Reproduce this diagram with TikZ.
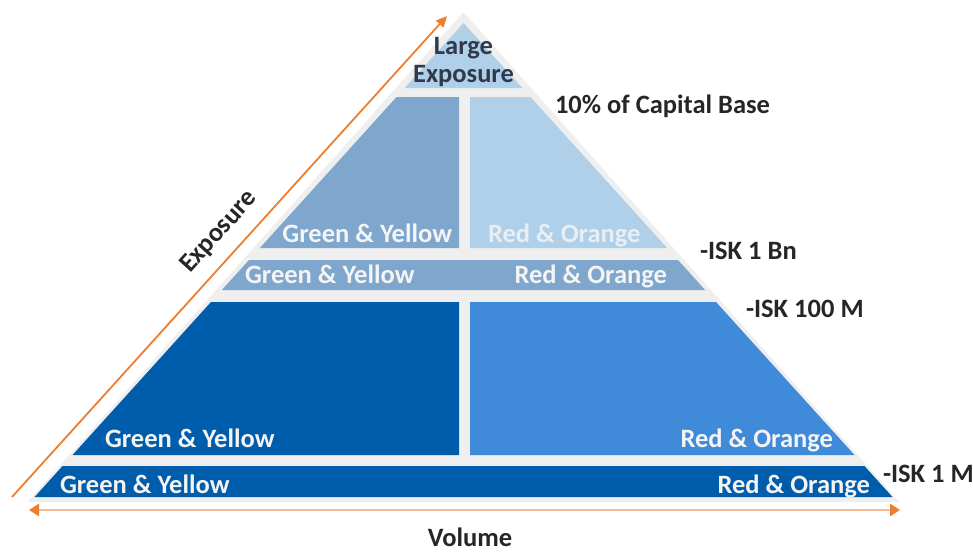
\documentclass[tikz,border=0pt]{standalone}
\usepackage{fontspec}
\setmainfont{Carlito}
\usetikzlibrary{arrows.meta}
\definecolor{bggray}{HTML}{EFEFEF}
\definecolor{lightblue}{HTML}{AFD0E8}
\definecolor{midblue}{HTML}{7FA7CE}
\definecolor{darkblue}{HTML}{005DAB}
\definecolor{brightblue}{HTML}{3F8BDA}
\definecolor{arrorange}{HTML}{ED7D31}
\definecolor{lineorange}{HTML}{F6B995}
\definecolor{labelgray}{HTML}{262626}
\definecolor{topgray}{HTML}{2F3A4C}
\definecolor{intext}{HTML}{F4F4F4}
\begin{document}
\begin{tikzpicture}[x=1pt,y=-1pt,
  txt/.style={font=\bfseries\fontsize{26.5}{28}\selectfont, inner sep=0pt, outer sep=0pt},
  intxt/.style={txt, text=intext},
  outtxt/.style={txt, text=labelgray}]
\useasboundingbox (0,0) rectangle (973,551);
% background gray triangle
\fill[bggray] (463.5,12) -- (899.5,502) -- (27.5,502) -- cycle;
% row 1
\fill[lightblue] (463.5,23) -- ({463.5+0.905*(88-23)},88) -- ({463.5-0.905*(88-23)},88) -- cycle;
% row 2
\fill[midblue] ({463.5-0.905*(97-23)},97) -- (459,97) -- (459,248) -- ({463.5-0.905*(248-23)},248) -- cycle;
\fill[lightblue] (470,97) -- ({463.5+0.905*(97-23)},97) -- ({463.5+0.905*(248-23)},248) -- (470,248) -- cycle;
% row 3
\fill[midblue] ({463.5-0.905*(260-23)},260) -- ({463.5+0.905*(260-23)},260) -- ({463.5+0.905*(290-23)},290) -- ({463.5-0.905*(290-23)},290) -- cycle;
% row 4
\fill[darkblue] ({463.5-0.905*(302-23)},302) -- (459,302) -- (459,455) -- ({463.5-0.905*(455-23)},455) -- cycle;
\fill[brightblue] (470,302) -- ({463.5+0.905*(302-23)},302) -- ({463.5+0.905*(455-23)},455) -- (470,455) -- cycle;
% row 5
\fill[darkblue] ({463.5-0.905*(466-23)},466) -- ({463.5+0.905*(466-23)},466) -- ({463.5+0.905*(497-23)},497) -- ({463.5-0.905*(497-23)},497) -- cycle;

% texts in shapes
\node[txt, text=topgray, anchor=base] (large) at (463.5,54) {Large};
\node[txt, text=topgray, anchor=base] (exposuretop) at (463.5,82) {Exposure};
\node[intxt, anchor=base east] (gy2) at (452,242) {Green \& Yellow};
\node[intxt, anchor=base west, opacity=0.85] (ro2) at (488,242) {Red \& Orange};
\node[intxt, anchor=base west] (gy3) at (245,283) {Green \& Yellow};
\node[intxt, anchor=base east] (ro3) at (667,283) {Red \& Orange};
\node[intxt, anchor=base west] (gy4) at (105,447) {Green \& Yellow};
\node[intxt, anchor=base east] (ro4) at (833,447) {Red \& Orange};
\node[intxt, anchor=base west] (gy5) at (60,493) {Green \& Yellow};
\node[intxt, anchor=base east] (ro5) at (870,493) {Red \& Orange};

% outside labels
\node[outtxt, anchor=base west] (cap) at (555,113) {10\% of Capital Base};
\node[outtxt, anchor=base west] (bn) at (700,259) {-ISK 1 Bn};
\node[outtxt, anchor=base west] (hm) at (746,317) {-ISK 100 M};
\node[outtxt, anchor=base west] (om) at (883,482) {-ISK 1 M};
\node[outtxt, anchor=base] (volume) at (470,546) {Volume};
\node[outtxt, rotate=48, anchor=center] (exposure) at (219,232) {Exposure};

% arrows
\coordinate (expS) at (12,497);
\coordinate (expE) at (447,16);
\draw[arrorange, line width=1.8pt, -{Triangle[length=11pt,width=10pt]}] (expS) -- (expE);
\coordinate (volL) at (29,510);
\coordinate (volR) at (900,510);
\draw[lineorange, line width=2.6pt, {Triangle[color=arrorange,length=10pt,width=12pt]}-{Triangle[color=arrorange,length=10pt,width=12pt]}] (volL) -- (volR);
\end{tikzpicture}
\end{document}
